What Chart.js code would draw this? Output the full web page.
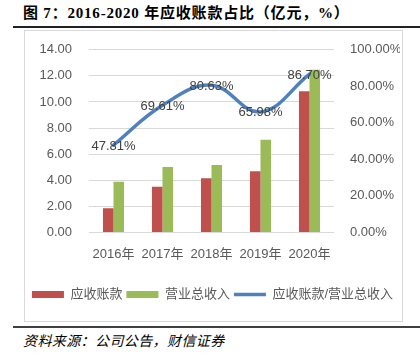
<!DOCTYPE html>
<html><head><meta charset="utf-8">
<script src="https://cdn.jsdelivr.net/npm/chart.js@4"></script>
<style>
html,body{margin:0;padding:0;background:#fff;width:420px;height:355px;overflow:hidden;position:relative;}
#title{position:absolute;left:23px;top:3px;font-family:"Liberation Serif","Noto Sans CJK SC",serif;font-weight:bold;font-size:15px;letter-spacing:0.8px;color:#000;white-space:nowrap;line-height:20px;}
#l1{position:absolute;left:13px;top:26px;width:407px;height:1.5px;background:#222;}
#box{position:absolute;left:24px;top:30px;width:377px;height:290px;border:1px solid #d9d9d9;background:#fff;}
#l2{position:absolute;left:13px;top:326px;width:407px;height:2px;background:#404040;}
#src{position:absolute;left:23px;top:331px;font-family:"Noto Sans CJK SC",sans-serif;font-style:italic;font-size:14px;letter-spacing:0.4px;color:#000;white-space:nowrap;line-height:18px;}
canvas{position:absolute;left:0;top:-6px;}
</style></head><body>
<div id="title">图 7：2016-2020 年应收账款占比（亿元，%）</div>
<div id="l1"></div>
<div id="box"><canvas id="c" width="377" height="296"></canvas></div>
<div id="l2"></div>
<div id="src">资料来源：公司公告，财信证券</div>
<script>
const categories = ["2016年","2017年","2018年","2019年","2020年"];
const receivables = [1.86, 3.50, 4.16, 4.69, 10.82];
const revenue = [3.88, 5.02, 5.16, 7.11, 12.48];
const ratio = [47.81, 69.61, 80.63, 65.98, 86.70];
const leftTicks = [0, 2, 4, 6, 8, 10, 12, 14];
const rightTicks = [0, 20, 40, 60, 80, 100];

const FONT = '"Liberation Sans","Noto Sans CJK SC",sans-serif';
const GRAY = '#595959';

const labelPlugin = {
  id: 'lineLabels',
  afterDatasetsDraw(chart) {
    const ctx = chart.ctx;
    const meta = chart.getDatasetMeta(2);
    ctx.save();
    ctx.font = '13px ' + FONT;
    ctx.fillStyle = '#404040';
    ctx.textAlign = 'center';
    ctx.textBaseline = 'middle';
    meta.data.forEach((pt, i) => {
      ctx.fillText(ratio[i].toFixed(2) + '%', pt.x, pt.y + 1);
    });
    ctx.restore();
  }
};

new Chart(document.getElementById('c'), {
  type: 'bar',
  data: {
    labels: categories,
    datasets: [
      {label: '应收账款', data: receivables, backgroundColor: '#C0504D', yAxisID: 'y', order: 1,
       categoryPercentage: 0.43, barPercentage: 1.0},
      {label: '营业总收入', data: revenue, backgroundColor: '#9BBB59', yAxisID: 'y', order: 1,
       categoryPercentage: 0.43, barPercentage: 1.0},
      {label: '应收账款/营业总收入', type: 'line', data: ratio, yAxisID: 'y1', order: 0,
       borderColor: '#4F81BD', backgroundColor: '#4F81BD', borderWidth: 3.5, pointRadius: 0,
       tension: 0.4, borderCapStyle: 'round', fill: false}
    ]
  },
  options: {
    responsive: false,
    animation: false,
    devicePixelRatio: 1,
    layout: {padding: {top: 2, bottom: 10, left: 0, right: 2}},
    plugins: {
      tooltip: {enabled: false},
      legend: {
        position: 'bottom',
        labels: {
          font: {size: 13, family: FONT},
          color: GRAY,
          usePointStyle: true,
          pointStyleWidth: 32,
          boxHeight: 7,
          padding: 4,
          generateLabels(chart) {
            return chart.data.datasets.map((ds, i) => ({
              text: ds.label,
              fillStyle: ds.backgroundColor,
              strokeStyle: ds.type === 'line' ? ds.borderColor : ds.backgroundColor,
              lineWidth: ds.type === 'line' ? 3.5 : 0,
              pointStyle: ds.type === 'line' ? 'line' : 'rect',
              fontColor: GRAY,
              hidden: false,
              datasetIndex: i
            }));
          }
        }
      }
    },
    scales: {
      x: {
        grid: {display: false},
        border: {display: false},
        ticks: {font: {size: 13, family: FONT}, color: GRAY, padding: 6},
        afterFit(s) { s.height += 16; }
      },
      y: {
        position: 'left',
        min: 0, max: 14,
        afterBuildTicks(s) { s.ticks = leftTicks.map(v => ({value: v})); },
        afterFit(s) { s.width = 64; },
        grid: {color: '#d9d9d9', drawTicks: false},
        border: {display: false},
        ticks: {font: {size: 13, family: FONT}, color: GRAY, padding: 17,
                callback: v => Number(v).toFixed(2)}
      },
      y1: {
        position: 'right',
        min: 0, max: 100,
        afterBuildTicks(s) { s.ticks = rightTicks.map(v => ({value: v})); },
        afterFit(s) { s.width = 66; },
        grid: {display: false, drawTicks: false},
        border: {display: false},
        ticks: {font: {size: 13, family: FONT}, color: GRAY, padding: 16,
                callback: v => Number(v).toFixed(2) + '%'}
      }
    }
  },
  plugins: [labelPlugin]
});
</script>
</body></html>
